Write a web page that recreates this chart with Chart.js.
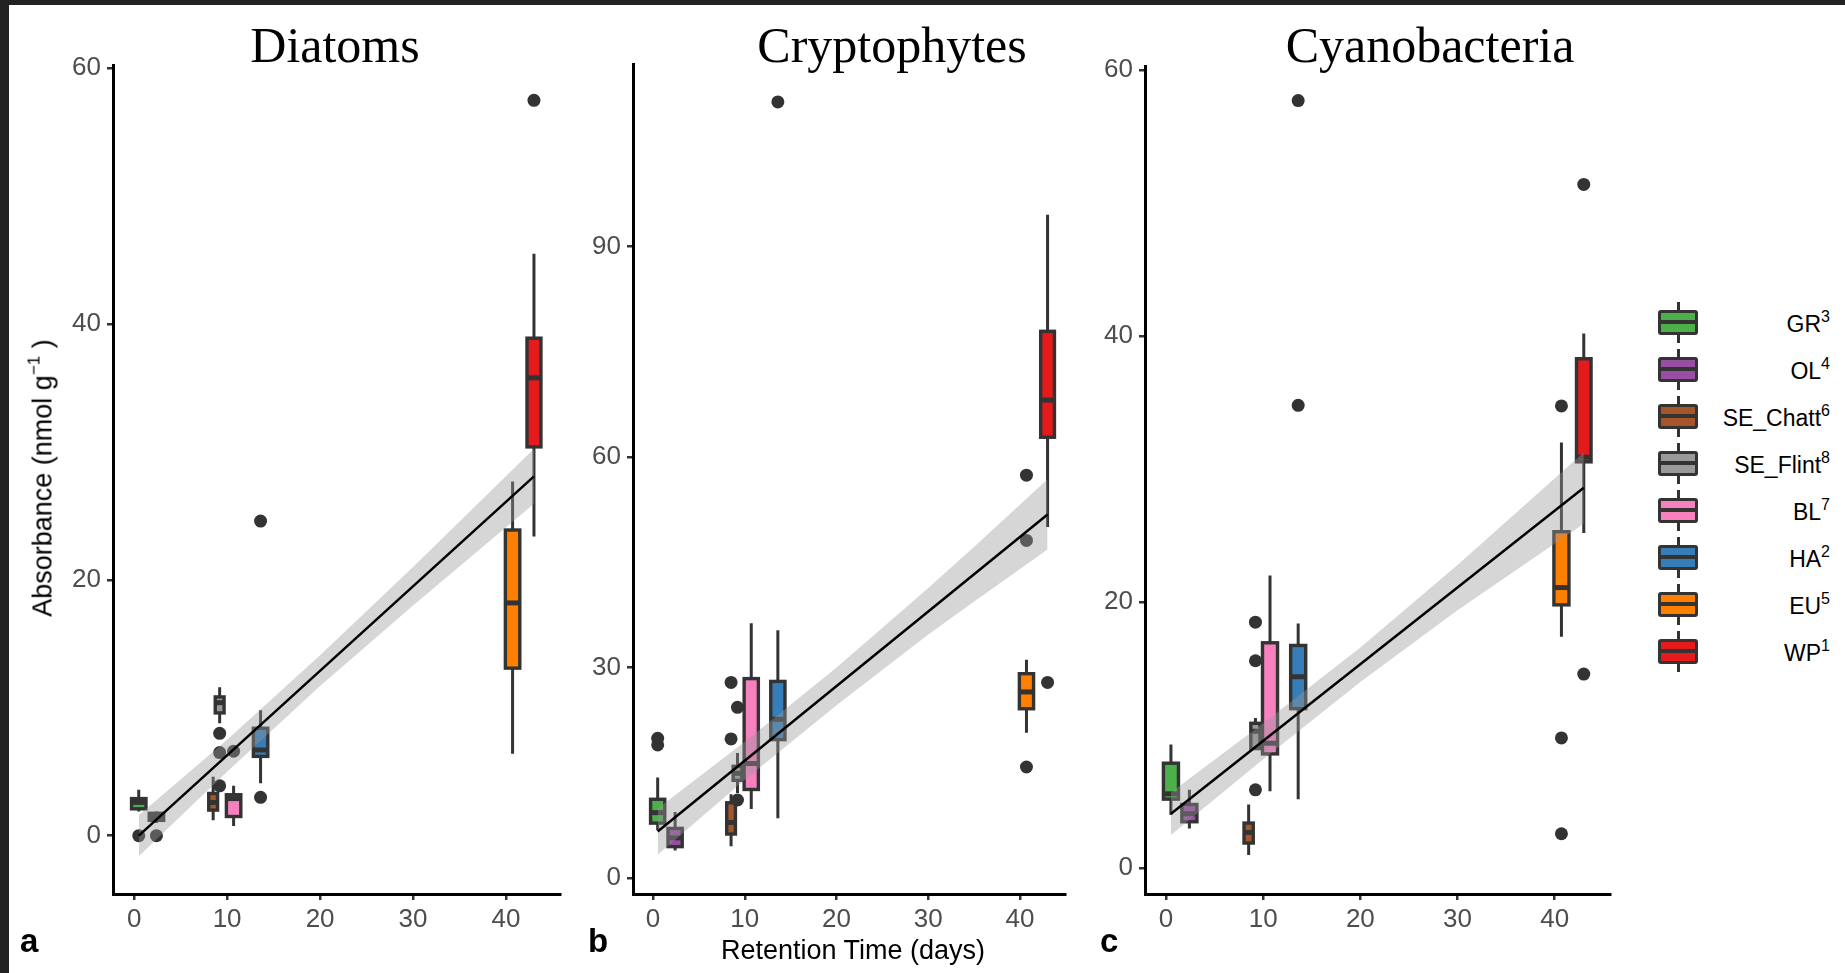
<!DOCTYPE html>
<html>
<head>
<meta charset="utf-8">
<script src="https://cdn.jsdelivr.net/npm/chart.js@4.4.1/dist/chart.umd.min.js"></script>
<style>
  html, body { margin: 0; padding: 0; background: #fff; }
  body { width: 1845px; height: 973px; position: relative; overflow: hidden;
         font-family: "Liberation Sans", Arial, sans-serif; }
  canvas { position: absolute; top: 0; }
  .frame-left { position: absolute; left: 0; top: 0; width: 9px; height: 973px; background: #222; z-index: 5; }
  .frame-top  { position: absolute; left: 0; top: 0; width: 1845px; height: 5px; background: #222; z-index: 5; }
  .title { position: absolute; top: 20px; font-family: "Liberation Serif", "Times New Roman", serif;
           font-size: 50px; line-height: 50px; color: #000; transform: translateX(-50%); white-space: nowrap; }
  .tag { position: absolute; top: 924px; font-size: 33px; line-height: 33px; font-weight: bold; color: #000; }
  .xtitle { position: absolute; left: 853px; top: 937px; font-size: 27px; line-height: 27px; color: #000;
            transform: translateX(-50%); white-space: nowrap; }
  .ytitle { position: absolute; left: 43px; top: 478px; font-size: 27px; line-height: 27px; color: #000;
            transform: translate(-50%, -50%) rotate(-90deg); white-space: nowrap; }
  .ytitle sup { font-size: 17px; line-height: 0; vertical-align: baseline; position: relative; top: -12px; }
  .lab sup { font-size: 16px; line-height: 0; vertical-align: baseline; position: relative; top: -10px; }
  .key { position: absolute; left: 1658px; width: 40px; height: 41px; }
  .key .wh { position: absolute; left: 18.5px; top: 0; width: 3px; height: 41px; background: #333; }
  .key .bx { position: absolute; left: 0; top: 8px; width: 34px; height: 19px; border: 3px solid #333;
             border-radius: 3px; }
  .key .md { position: absolute; left: 3px; top: 18px; width: 34px; height: 4px; background: #333; }
  .lab { position: absolute; right: 15px; font-size: 23px; line-height: 23px; color: #000; white-space: nowrap; }
</style>
</head>
<body>
<div class="frame-left"></div>
<div class="frame-top"></div>

<canvas id="diatoms" width="580" height="973" style="left:0px"></canvas>
<canvas id="crypto" width="500" height="973" style="left:580px"></canvas>
<canvas id="cyano" width="560" height="973" style="left:1080px"></canvas>

<div class="title" style="left:335px">Diatoms</div>
<div class="title" style="left:892px">Cryptophytes</div>
<div class="title" style="left:1430px">Cyanobacteria</div>
<div class="ytitle">Absorbance (nmol g<sup>−1</sup> )</div>
<div class="xtitle">Retention Time (days)</div>
<div class="tag" style="left:20px">a</div>
<div class="tag" style="left:588px">b</div>
<div class="tag" style="left:1100px">c</div>
<div id="legend"></div>

<script>
// groups, in legend order
const groups      = ['GR', 'OL', 'SE_Chatt', 'SE_Flint', 'BL', 'HA', 'EU', 'WP'];
const groupNotes  = ['3', '4', '6', '8', '7', '2', '5', '1'];
const groupColors = ['#4DAF4A', '#984EA3', '#A65628', '#999999', '#F781BF', '#377EB8', '#FF7F00', '#E41A1C'];
const retention   = [0.5, 2.4, 8.5, 9.2, 10.7, 13.6, 40.7, 43.0];
const xTicks      = [0, 10, 20, 30, 40];

// Diatoms
const diaLow   = [1.9, 1.0, 1.2, 8.8, 0.75, 4.1, 6.4, 23.4];
const diaQ1    = [2.1, 1.2, 2.0, 9.6, 1.5, 6.2, 13.1, 30.4];
const diaMed   = [2.6, 1.5, 2.6, 10.4, 2.9, 6.7, 18.2, 35.8];
const diaQ3    = [2.9, 1.75, 3.3, 10.85, 3.2, 8.4, 23.9, 38.9];
const diaHigh  = [3.6, 1.9, 4.6, 11.6, 3.9, 9.8, 27.7, 45.5];
const diaOutX  = [0.5, 2.4, 9.2, 9.2, 9.2, 10.7, 13.6, 13.6, 43.0];
const diaOutY  = [0, 0, 8.0, 6.5, 3.9, 6.6, 24.6, 3.0, 57.5];
const diaFitX  = [0.5, 43];
const diaFitY  = [0.0, 28.1];
const diaBandX    = [0.5, 10, 20, 30, 43];
const diaBandLow  = [-1.6, 5.0, 11.7, 18.0, 25.95];
const diaBandHigh = [1.6, 7.5, 14.1, 21.0, 30.25];
const diaYTicks = [0, 20, 40, 60];

// Cryptophytes
const cryLow   = [6.8, 3.9, 4.5, 12.1, 9.8, 8.5, 20.7, 50.0];
const cryQ1    = [7.8, 4.45, 6.25, 13.9, 12.6, 19.7, 24.1, 62.8];
const cryMed   = [9.3, 5.7, 7.9, 14.9, 16.3, 22.6, 26.5, 68.1];
const cryQ3    = [11.2, 7.05, 10.7, 15.9, 28.4, 28.0, 29.1, 77.9];
const cryHigh  = [14.3, 9.4, 11.9, 17.8, 36.3, 35.3, 31.1, 94.5];
const cryOutX  = [0.5, 0.5, 8.5, 9.2, 8.5, 9.2, 13.6, 40.7, 40.7, 40.7, 43.0];
const cryOutY  = [19.9, 18.95, 27.85, 24.3, 19.8, 11.1, 110.6, 57.4, 48.1, 15.8, 27.85];
const cryFitX  = [0.5, 43];
const cryFitY  = [6.6, 51.8];
const cryBandX    = [0.5, 10, 20, 30, 35, 43];
const cryBandLow  = [3.3, 14.0, 24.6, 34.7, 39.4, 46.8];
const cryBandHigh = [9.9, 19.4, 30.0, 41.3, 47.2, 56.8];
const cryYTicks = [0, 30, 60, 90];

// Cyanobacteria
const cyaLow   = [4.0, 3.0, 1.0, 8.9, 5.8, 5.2, 17.4, 25.2];
const cyaQ1    = [5.2, 3.5, 1.9, 9.0, 8.6, 12.0, 19.8, 30.55];
const cyaMed   = [5.6, 4.1, 2.7, 10.3, 9.4, 14.4, 21.1, 30.9];
const cyaQ3    = [7.9, 4.8, 3.4, 10.9, 16.95, 16.75, 25.3, 38.3];
const cyaHigh  = [9.3, 5.9, 4.8, 11.3, 22.0, 18.4, 32.0, 40.2];
const cyaOutX  = [9.2, 9.2, 9.2, 13.6, 13.6, 40.7, 40.7, 40.7, 43.0, 43.0];
const cyaOutY  = [18.5, 15.6, 5.9, 57.7, 34.8, 34.75, 9.8, 2.6, 51.4, 14.6];
const cyaFitX  = [0.5, 43];
const cyaFitY  = [4.1, 28.6];
const cyaBandX    = [0.5, 10, 20, 30, 43];
const cyaBandLow  = [2.5, 8.2, 14.0, 19.4, 25.9];
const cyaBandHigh = [5.7, 10.9, 16.6, 22.8, 31.25];
const cyaYTicks = [0, 20, 40, 60];

// box widths in days (the two SE sites sit close together, so ggplot drew them narrower)
const BOX_WIDTHS = [1.55, 1.55, 0.95, 0.95, 1.55, 1.55, 1.55, 1.5];
const INK = '#333333';

Chart.defaults.font.family = '"Liberation Sans", Arial, sans-serif';

const pts = (xs, ys) => xs.map((x, i) => ({ x, y: ys[i] }));

function boxPlugin(lo, q1, med, q3, hi) {
  return {
    id: 'boxes',
    beforeDatasetsDraw(chart) {
      const { ctx, chartArea: a, scales: { x, y } } = chart;
      ctx.save();
      ctx.beginPath();
      ctx.rect(a.left, a.top, a.right - a.left, a.bottom - a.top);
      ctx.clip();
      ctx.strokeStyle = INK;
      retention.forEach((d, i) => {
        const w = BOX_WIDTHS[i];
        const cx = x.getPixelForValue(d);
        const half = (x.getPixelForValue(d + w / 2) - x.getPixelForValue(d - w / 2)) / 2;
        const yTop = y.getPixelForValue(q3[i]);
        const yBot = y.getPixelForValue(q1[i]);
        ctx.lineWidth = 3;
        ctx.beginPath();
        ctx.moveTo(cx, y.getPixelForValue(hi[i])); ctx.lineTo(cx, yTop);
        ctx.moveTo(cx, yBot); ctx.lineTo(cx, y.getPixelForValue(lo[i]));
        ctx.stroke();
        ctx.fillStyle = groupColors[i];
        ctx.fillRect(cx - half, yTop, 2 * half, yBot - yTop);
        ctx.lineWidth = 3.4;
        ctx.strokeRect(cx - half, yTop, 2 * half, yBot - yTop);
        ctx.lineWidth = 5;
        const ym = y.getPixelForValue(med[i]);
        ctx.beginPath();
        ctx.moveTo(cx - half, ym); ctx.lineTo(cx + half, ym);
        ctx.stroke();
      });
      ctx.restore();
    }
  };
}

function axis(min, max, ticks, fitKey, fitSize) {
  return {
    type: 'linear',
    min, max,
    afterBuildTicks: s => { s.ticks = ticks.map(v => ({ value: v })); },
    afterFit: s => { s[fitKey] = fitSize; },
    border: { display: true, color: '#000', width: 3 },
    grid: { display: true, drawOnChartArea: false, drawTicks: true, tickLength: 6,
            color: INK, lineWidth: 2.5 },
    ticks: { color: '#4D4D4D', font: { size: 26 }, padding: fitKey === 'width' ? 6 : 4,
             maxRotation: 0, autoSkip: false }
  };
}

function drawPanel(id, p) {
  new Chart(document.getElementById(id), {
    type: 'scatter',
    data: {
      datasets: [
        { data: pts(p.outX, p.outY), pointRadius: 6.5, pointBackgroundColor: INK,
          pointBorderWidth: 0, order: 3 },
        { data: pts(p.bandX, p.bandHigh), showLine: true, borderWidth: 0, pointRadius: 0,
          fill: '+1', backgroundColor: 'rgba(153,153,153,0.4)', order: 2 },
        { data: pts(p.bandX, p.bandLow), showLine: true, borderWidth: 0, pointRadius: 0,
          fill: false, order: 2 },
        { data: pts(p.fitX, p.fitY), showLine: true, borderColor: '#000', borderWidth: 2.5,
          pointRadius: 0, fill: false, order: 1 }
      ]
    },
    options: {
      responsive: false,
      animation: false,
      layout: { padding: { left: 0, right: p.padRight, top: p.padTop, bottom: 29 } },
      plugins: { legend: { display: false }, tooltip: { enabled: false } },
      scales: {
        x: axis(p.xMin, p.xMax, xTicks, 'height', 50),
        y: axis(p.yMin, p.yMax, p.yTicks, 'width', p.axisWidth)
      }
    },
    plugins: [boxPlugin(p.low, p.q1, p.med, p.q3, p.high)]
  });
}

drawPanel('diatoms', {
  low: diaLow, q1: diaQ1, med: diaMed, q3: diaQ3, high: diaHigh,
  outX: diaOutX, outY: diaOutY, fitX: diaFitX, fitY: diaFitY,
  bandX: diaBandX, bandLow: diaBandLow, bandHigh: diaBandHigh, yTicks: diaYTicks,
  xMin: -2.27, xMax: 45.8, yMin: -4.56, yMax: 60.26,
  axisWidth: 113, padRight: 20, padTop: 65
});
drawPanel('crypto', {
  low: cryLow, q1: cryQ1, med: cryMed, q3: cryQ3, high: cryHigh,
  outX: cryOutX, outY: cryOutY, fitX: cryFitX, fitY: cryFitY,
  bandX: cryBandX, bandLow: cryBandLow, bandHigh: cryBandHigh, yTicks: cryYTicks,
  xMin: -2.19, xMax: 44.9, yMin: -2.3, yMax: 116.0,
  axisWidth: 53, padRight: 15, padTop: 64
});
drawPanel('cyano', {
  low: cyaLow, q1: cyaQ1, med: cyaMed, q3: cyaQ3, high: cyaHigh,
  outX: cyaOutX, outY: cyaOutY, fitX: cyaFitX, fitY: cyaFitY,
  bandX: cyaBandX, bandLow: cyaBandLow, bandHigh: cyaBandHigh, yTicks: cyaYTicks,
  xMin: -2.17, xMax: 45.7, yMin: -1.93, yMax: 60.3,
  axisWidth: 65, padRight: 30, padTop: 66
});

// legend
const legend = document.getElementById('legend');
groups.forEach((g, i) => {
  const cy = 322 + i * 47;
  const key = document.createElement('div');
  key.className = 'key';
  key.style.top = (cy - 20.5) + 'px';
  key.innerHTML = '<div class="wh"></div><div class="bx" style="background:' + groupColors[i] +
                  '"></div><div class="md"></div>';
  legend.appendChild(key);
  const lab = document.createElement('div');
  lab.className = 'lab';
  lab.style.top = (cy - 9) + 'px';
  lab.innerHTML = g + '<sup>' + groupNotes[i] + '</sup>';
  legend.appendChild(lab);
});
</script>
</body>
</html>
